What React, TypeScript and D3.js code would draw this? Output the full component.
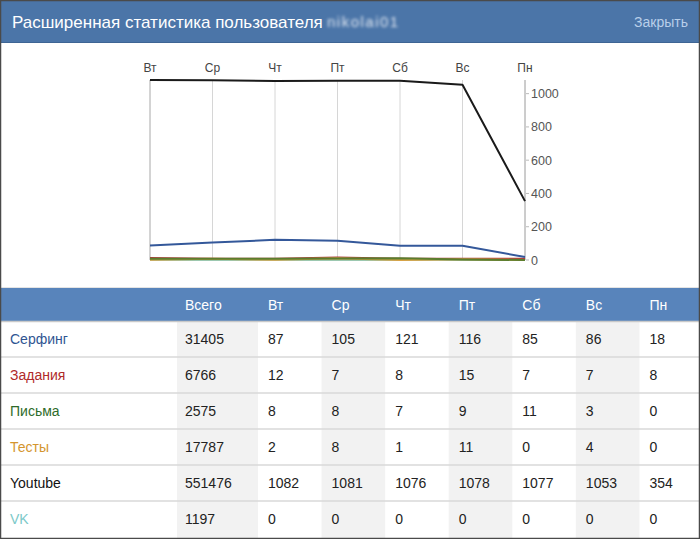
import React from 'react';
import * as d3 from 'd3';

const days = ['Вт', 'Ср', 'Чт', 'Пт', 'Сб', 'Вс', 'Пн'];
const seriesNames = ['Серфинг', 'Задания', 'Письма', 'Тесты', 'Youtube', 'VK'];
const totals = [31405, 6766, 2575, 17787, 551476, 1197];
const surfing = [87, 105, 121, 116, 85, 86, 18];
const tasks = [12, 7, 8, 15, 7, 7, 8];
const letters = [8, 8, 7, 9, 11, 3, 0];
const tests = [2, 8, 1, 11, 0, 4, 0];
const youtube = [1082, 1081, 1076, 1078, 1077, 1053, 354];
const vk = [0, 0, 0, 0, 0, 0, 0];
const yTicks = [0, 200, 400, 600, 800, 1000];
const titleText = 'Расширенная статистика пользователя';
const closeText = 'Закрыть';
const totalHeader = 'Всего';

const seriesValues = [surfing, tasks, letters, tests, youtube, vk];
const lineColors = ['#34589a', '#b03a3a', '#5a7d2e', '#d9a244', '#1a1a1a', '#9cc8b0'];
const labelColors = ['#2f5592', '#b02a2a', '#2e6b2a', '#d4952e', '#111111', '#7cc9c9'];
const drawOrder = [5, 1, 3, 2, 0, 4];

const W = 700;
const H = 539;
const FONT = '"Liberation Sans", Arial, sans-serif';

export default function App() {
  const x = d3.scalePoint<string>().domain(days).range([150, 525]);
  const yMax = d3.max(seriesValues.flat()) as number;
  const y = d3.scaleLinear().domain([0, yMax]).range([260, 80]);
  const line = d3
    .line<number>()
    .x((_, i) => x(days[i]) as number)
    .y((d) => y(d));

  const colBand = d3.scaleBand<string>().domain(days).range([258, 703]).paddingInner(0).paddingOuter(0);
  const totalCol = { x0: 177, x1: 258 };
  const headerTop = 288;
  const headerBottom = 321;
  const rowH = 36;
  const rowY = d3.scaleLinear().domain([0, 1]).range([headerBottom, headerBottom + rowH]);

  const shadedDays = days.filter((_, i) => i % 2 === 1);

  return (
    <svg
      width={W}
      height={H}
      style={{ position: 'absolute', left: 0, top: 0, display: 'block' }}
      fontFamily={FONT}
    >
      <defs>
        <filter id="blurName" x="-20%" y="-50%" width="140%" height="200%">
          <feGaussianBlur stdDeviation="1.4" />
        </filter>
      </defs>
      <rect x={0} y={0} width={W} height={H} fill="#ffffff" />

      {/* title bar */}
      <rect x={0} y={0} width={W} height={43} fill="#4b75a8" />
      <line x1={0} x2={W} y1={42.5} y2={42.5} stroke="#3e6594" strokeWidth={1} />
      <text x={12} y={28} fill="#ffffff" fontSize={17}>
        {titleText}
      </text>
      <g filter="url(#blurName)" opacity={0.9}>
        <text x={327} y={27} fill="#f0f4fa" fontSize={15} letterSpacing={1.5}>
          nikolai01
        </text>
      </g>
      <text x={688} y={27} fill="#b9cfea" fontSize={14} textAnchor="end">
        {closeText}
      </text>

      {/* chart grid */}
      {days.slice(0, -1).map((d, i) => (
        <line
          key={'g' + d}
          x1={x(d)}
          x2={x(d)}
          y1={y(yMax)}
          y2={y(0)}
          stroke={i === 0 ? '#a8a8a8' : '#d6d6d6'}
          strokeWidth={1}
        />
      ))}
      <line x1={x('Пн')} x2={x('Пн')} y1={y(yMax)} y2={y(0)} stroke="#9a9a9a" strokeWidth={1} />
      {yTicks.map((t) => (
        <g key={'t' + t}>
          <line x1={(x('Пн') as number) + 1} x2={(x('Пн') as number) + 4} y1={y(t)} y2={y(t)} stroke="#bbbbbb" />
          <text x={(x('Пн') as number) + 6} y={y(t) + 4.5} fontSize={12.5} fill="#555555">
            {t}
          </text>
        </g>
      ))}
      {days.map((d) => (
        <text key={'d' + d} x={x(d)} y={72} fontSize={12} fill="#444444" textAnchor="middle">
          {d}
        </text>
      ))}

      {/* series lines */}
      {drawOrder.map((si) => (
        <path
          key={'s' + si}
          d={line(seriesValues[si]) || ''}
          fill="none"
          stroke={lineColors[si]}
          strokeWidth={2}
          strokeLinejoin="round"
        />
      ))}

      {/* table */}
      <rect x={0} y={headerTop} width={W} height={headerBottom - headerTop} fill="#5884bb" />
      <line x1={0} x2={W} y1={headerTop - 0.5} y2={headerTop - 0.5} stroke="#e4e4e4" />
      {/* shaded columns */}
      <rect
        x={totalCol.x0}
        y={headerBottom}
        width={totalCol.x1 - totalCol.x0}
        height={H - headerBottom}
        fill="#f2f2f2"
      />
      {shadedDays.map((d) => (
        <rect
          key={'sh' + d}
          x={colBand(d)}
          y={headerBottom}
          width={colBand.bandwidth()}
          height={H - headerBottom}
          fill="#f2f2f2"
        />
      ))}
      <line x1={0} x2={W} y1={headerBottom + 0.5} y2={headerBottom + 0.5} stroke="#c9c9c9" strokeWidth={1.5} />
      {seriesNames.slice(1).map((_, i) => (
        <line
          key={'rl' + i}
          x1={0}
          x2={W}
          y1={rowY(i + 1)}
          y2={rowY(i + 1)}
          stroke="#d8d8d8"
          strokeWidth={1.5}
        />
      ))}
      <text x={totalCol.x0 + 8} y={(headerTop + headerBottom) / 2 + 5} fill="#ffffff" fontSize={14}>
        {totalHeader}
      </text>
      {days.map((d) => (
        <text
          key={'h' + d}
          x={(colBand(d) as number) + 10}
          y={(headerTop + headerBottom) / 2 + 5}
          fill="#ffffff"
          fontSize={14}
        >
          {d}
        </text>
      ))}
      {seriesNames.map((name, si) => {
        const cy = rowY(si + 0.5) + 5;
        return (
          <g key={'r' + si}>
            <text x={10} y={cy} fontSize={14} fill={labelColors[si]}>
              {name}
            </text>
            <text x={totalCol.x0 + 8} y={cy} fontSize={14} fill="#222222">
              {totals[si]}
            </text>
            {seriesValues[si].map((v, di) => (
              <text key={di} x={(colBand(days[di]) as number) + 10} y={cy} fontSize={14} fill="#222222">
                {v}
              </text>
            ))}
          </g>
        );
      })}

      {/* frame */}
      <rect x={0.5} y={0.5} width={W - 1} height={H - 1} fill="none" stroke="#4a4a4a" strokeWidth={1.5} />
    </svg>
  );
}
